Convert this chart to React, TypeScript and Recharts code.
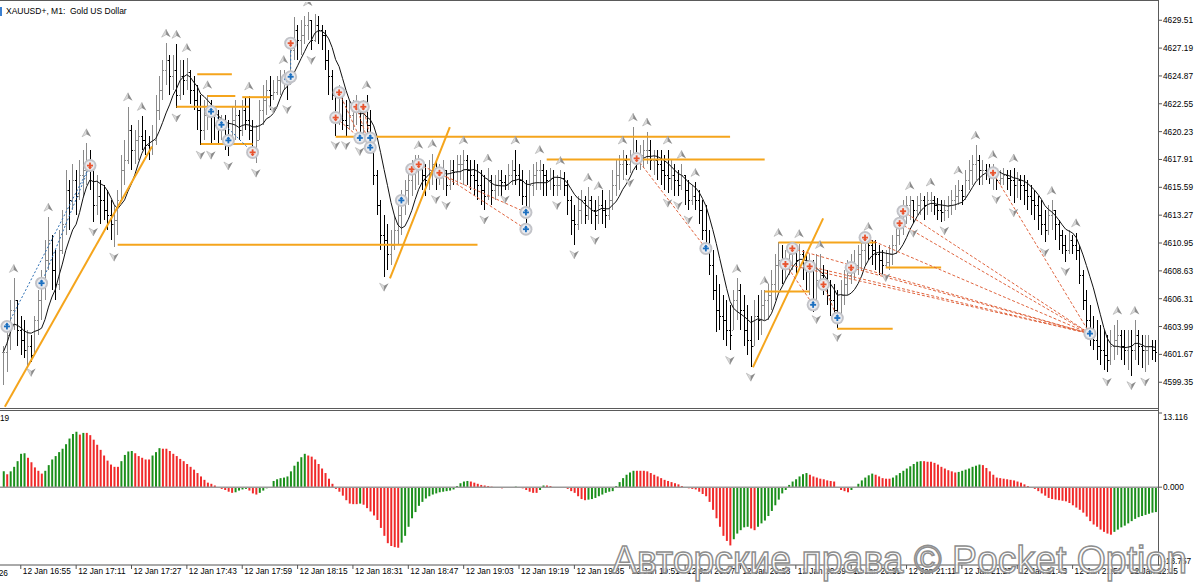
import React from 'react';
import { ComposedChart, Bar, Line, Scatter, XAxis, YAxis, ReferenceLine, Cell } from 'recharts';

// XAUUSD+ M1, one bar per minute starting 12 Jan 16:50
const high = [
  4602.4, 4603.7, 4606.2, 4608.0, 4606.2, 4604.9, 4604.5, 4603.7, 4603.3, 4604.9,
  4607.0, 4608.7, 4611.2, 4613.1, 4611.6, 4610.4, 4612.0, 4613.7, 4617.0, 4616.2,
  4617.5, 4617.0, 4617.9, 4618.7, 4619.3, 4618.7, 4617.0, 4616.6, 4616.2, 4615.8,
  4615.4, 4614.5, 4614.1, 4615.4, 4618.3, 4619.5, 4622.3, 4620.8, 4620.4, 4621.2,
  4621.5, 4620.4, 4619.9, 4620.8, 4623.3, 4624.9, 4626.2, 4627.6, 4626.6, 4626.6,
  4627.5, 4626.2, 4626.2, 4626.4, 4625.4, 4624.9, 4624.1, 4623.3, 4622.9, 4623.3,
  4622.9, 4622.0, 4622.0, 4621.6, 4621.6, 4621.2, 4622.4, 4622.9, 4622.0, 4622.9,
  4623.0, 4623.2, 4621.2, 4620.8, 4622.9, 4624.1, 4624.5, 4624.9, 4624.5, 4624.9,
  4625.4, 4625.4, 4624.9, 4627.9, 4629.8, 4629.1, 4629.5, 4629.9, 4630.2, 4629.5,
  4630.0, 4629.9, 4629.1, 4628.7, 4627.0, 4625.4, 4623.3, 4624.1, 4623.3, 4622.9,
  4622.9, 4622.9, 4623.3, 4622.4, 4622.9, 4623.3, 4622.0, 4619.5, 4617.0, 4614.5,
  4613.3, 4612.5, 4612.0, 4613.3, 4614.5, 4615.4, 4616.2, 4617.0, 4617.9, 4618.3,
  4618.3, 4617.9, 4617.5, 4617.9, 4618.4, 4617.9, 4617.5, 4617.9, 4617.0, 4617.9,
  4617.9, 4618.3, 4618.3, 4618.7, 4618.3, 4617.9, 4617.9, 4617.5, 4617.0, 4616.6,
  4617.2, 4616.6, 4616.6, 4617.0, 4617.0, 4616.6, 4617.5, 4617.9, 4618.7, 4617.5,
  4617.0, 4616.2, 4617.0, 4617.5, 4617.7, 4617.9, 4617.5, 4617.0, 4617.2, 4617.0,
  4616.6, 4617.0, 4616.9, 4616.2, 4614.9, 4614.1, 4614.9, 4615.4, 4614.9, 4615.6,
  4614.9, 4614.5, 4614.9, 4615.4, 4614.5, 4615.4, 4617.0, 4617.9, 4618.3, 4618.7,
  4618.3, 4618.7, 4620.6, 4619.5, 4619.1, 4619.5, 4620.2, 4619.5, 4618.7, 4618.7,
  4618.7, 4618.3, 4618.7, 4617.9, 4617.5, 4617.0, 4617.5, 4616.6, 4616.2, 4615.8,
  4616.0, 4615.4, 4614.5, 4614.1, 4612.0, 4610.4, 4608.3, 4607.5, 4606.6, 4606.2,
  4605.8, 4607.0, 4608.0, 4607.5, 4606.6, 4605.8, 4604.9, 4606.2, 4606.6, 4607.0,
  4607.0, 4607.5, 4608.7, 4610.0, 4611.0, 4610.8, 4610.4, 4610.8, 4610.8, 4610.8,
  4610.9, 4610.4, 4610.0, 4610.0, 4609.5, 4610.0, 4610.0, 4609.1, 4608.7, 4607.9,
  4607.5, 4607.0, 4607.9, 4608.7, 4609.5, 4610.0, 4610.4, 4610.8, 4611.2, 4611.5,
  4611.5, 4611.2, 4611.2, 4610.8, 4610.4, 4610.4, 4610.8, 4611.6, 4612.5, 4613.3,
  4614.5, 4614.9, 4614.9, 4614.5, 4614.9, 4615.1, 4614.9, 4615.2, 4615.2, 4614.9,
  4614.7, 4614.5, 4614.5, 4614.9, 4615.4, 4615.8, 4616.2, 4615.8, 4617.0, 4617.9,
  4618.3, 4619.1, 4618.3, 4617.9, 4617.5, 4617.5, 4617.5, 4617.0, 4617.0, 4617.2,
  4617.0, 4617.0, 4617.2, 4616.9, 4616.6, 4616.6, 4616.2, 4615.8, 4615.4, 4614.9,
  4614.5, 4613.7, 4614.1, 4614.5, 4613.7, 4612.9, 4612.0, 4611.6, 4612.0, 4611.6,
  4611.8, 4610.8, 4608.7, 4607.0, 4605.8, 4604.9, 4604.5, 4604.1, 4603.7, 4603.3,
  4603.7, 4604.1, 4604.5, 4603.7, 4603.7, 4603.7, 4603.7, 4604.5, 4603.7, 4603.3,
  4603.3, 4603.3, 4602.9, 4602.9,
];

const low = [
  4599.1, 4600.2, 4602.0, 4603.7, 4602.4, 4601.6, 4601.4, 4600.5, 4601.0, 4601.6,
  4603.3, 4604.5, 4606.2, 4608.7, 4607.0, 4606.2, 4607.0, 4610.0, 4611.6, 4612.0,
  4613.7, 4613.3, 4614.5, 4614.9, 4615.8, 4615.4, 4612.7, 4613.3, 4612.5, 4612.9,
  4612.0, 4611.2, 4610.6, 4611.6, 4614.5, 4615.8, 4617.5, 4617.0, 4617.5, 4617.9,
  4618.7, 4618.3, 4617.9, 4618.3, 4619.1, 4621.2, 4622.9, 4624.1, 4623.3, 4623.7,
  4622.2, 4622.9, 4623.3, 4623.7, 4622.5, 4622.0, 4620.4, 4619.1, 4619.5, 4620.4,
  4619.1, 4619.5, 4619.1, 4619.5, 4618.7, 4618.2, 4619.1, 4619.5, 4619.5, 4619.9,
  4620.4, 4619.5, 4618.3, 4617.6, 4619.5, 4620.8, 4621.6, 4622.0, 4622.9, 4623.3,
  4623.3, 4623.7, 4622.9, 4624.1, 4626.2, 4626.2, 4626.6, 4627.5, 4627.9, 4627.0,
  4627.7, 4627.5, 4627.0, 4625.4, 4623.3, 4622.9, 4619.9, 4620.8, 4620.4, 4619.9,
  4620.4, 4620.4, 4620.8, 4619.4, 4619.7, 4619.9, 4618.9, 4615.8, 4613.3, 4610.4,
  4608.1, 4608.7, 4609.1, 4610.4, 4610.8, 4611.6, 4613.3, 4614.1, 4614.9, 4615.4,
  4615.8, 4615.4, 4614.9, 4615.4, 4615.8, 4615.4, 4615.8, 4615.4, 4614.9, 4615.4,
  4615.8, 4615.8, 4616.2, 4615.8, 4615.8, 4615.4, 4614.9, 4614.5, 4614.1, 4613.7,
  4614.5, 4614.1, 4614.5, 4614.9, 4614.9, 4615.4, 4615.4, 4615.8, 4615.8, 4614.9,
  4614.1, 4612.5, 4613.7, 4614.9, 4615.4, 4615.4, 4614.9, 4614.9, 4615.4, 4614.9,
  4614.9, 4615.4, 4614.9, 4613.3, 4611.6, 4610.8, 4612.0, 4612.5, 4612.5, 4612.9,
  4612.5, 4612.0, 4612.5, 4612.5, 4612.2, 4612.9, 4613.7, 4614.9, 4615.4, 4616.2,
  4616.6, 4616.8, 4617.5, 4617.0, 4617.0, 4617.2, 4617.5, 4617.0, 4616.6, 4616.2,
  4615.8, 4615.4, 4615.1, 4615.4, 4614.9, 4614.9, 4615.4, 4614.1, 4613.7, 4614.1,
  4613.7, 4612.5, 4611.2, 4610.4, 4608.3, 4606.2, 4603.5, 4603.7, 4602.9, 4602.4,
  4602.0, 4603.7, 4604.5, 4603.7, 4602.4, 4601.6, 4600.6, 4602.4, 4602.9, 4603.3,
  4604.5, 4604.5, 4605.4, 4606.2, 4607.0, 4607.5, 4607.9, 4608.3, 4608.7, 4608.3,
  4608.7, 4607.9, 4607.0, 4606.6, 4605.2, 4605.4, 4607.0, 4606.6, 4605.8, 4604.9,
  4604.5, 4603.9, 4604.9, 4605.8, 4606.6, 4607.5, 4607.9, 4608.3, 4608.7, 4609.1,
  4609.5, 4609.1, 4608.7, 4608.3, 4608.3, 4608.9, 4608.7, 4609.1, 4610.0, 4610.8,
  4611.6, 4612.5, 4612.9, 4612.6, 4613.3, 4613.3, 4612.9, 4613.3, 4613.5, 4613.3,
  4612.9, 4612.7, 4612.8, 4613.0, 4613.3, 4613.7, 4614.1, 4614.1, 4614.5, 4615.4,
  4615.8, 4616.2, 4615.8, 4615.8, 4616.2, 4615.9, 4615.4, 4615.4, 4615.8, 4615.8,
  4615.4, 4614.9, 4614.3, 4614.7, 4614.5, 4614.1, 4613.7, 4613.3, 4612.9, 4612.0,
  4611.6, 4611.0, 4611.6, 4612.0, 4611.2, 4610.4, 4610.0, 4609.4, 4610.0, 4610.0,
  4609.5, 4607.5, 4605.4, 4603.7, 4602.4, 4602.0, 4601.2, 4600.8, 4600.4, 4600.2,
  4600.8, 4601.2, 4601.6, 4601.2, 4600.8, 4600.4, 4599.9, 4601.2, 4600.8, 4600.5,
  4600.2, 4600.8, 4601.2, 4601.0,
];

const close = [
  4601.9, 4603.3, 4605.4, 4606.2, 4603.7, 4602.9, 4602.0, 4602.4, 4601.6, 4604.5,
  4606.2, 4607.5, 4609.5, 4611.2, 4608.7, 4607.5, 4610.4, 4612.5, 4615.4, 4614.5,
  4616.2, 4614.9, 4616.6, 4617.0, 4617.9, 4617.2, 4614.1, 4614.9, 4614.5, 4613.7,
  4613.3, 4612.5, 4612.9, 4614.5, 4617.0, 4617.9, 4620.4, 4618.7, 4619.5, 4619.9,
  4619.5, 4619.1, 4618.9, 4619.5, 4622.0, 4623.7, 4625.4, 4626.2, 4624.9, 4625.4,
  4623.3, 4624.9, 4624.5, 4625.2, 4623.7, 4622.9, 4622.0, 4620.4, 4621.6, 4622.4,
  4621.9, 4620.8, 4620.5, 4620.8, 4619.9, 4619.5, 4621.2, 4621.6, 4620.4, 4622.0,
  4621.2, 4620.4, 4618.7, 4619.5, 4622.0, 4622.9, 4623.7, 4623.3, 4623.5, 4624.5,
  4624.7, 4624.9, 4624.5, 4627.0, 4628.7, 4627.9, 4628.3, 4629.1, 4629.5, 4627.9,
  4629.1, 4628.7, 4628.3, 4626.2, 4624.9, 4623.3, 4621.4, 4623.3, 4621.2, 4620.8,
  4621.6, 4622.0, 4622.4, 4620.8, 4622.0, 4620.8, 4619.5, 4616.6, 4614.1, 4611.6,
  4611.2, 4610.0, 4610.8, 4612.0, 4613.3, 4614.5, 4615.4, 4616.2, 4617.0, 4617.5,
  4617.5, 4616.6, 4616.2, 4617.0, 4617.5, 4616.6, 4616.8, 4617.0, 4615.8, 4617.0,
  4616.9, 4617.5, 4617.5, 4617.9, 4617.0, 4616.6, 4616.2, 4615.8, 4615.4, 4614.9,
  4616.2, 4615.4, 4615.8, 4616.2, 4616.0, 4615.8, 4616.6, 4617.0, 4616.6, 4616.2,
  4614.9, 4613.7, 4615.8, 4616.6, 4617.0, 4617.0, 4616.6, 4616.2, 4616.4, 4615.8,
  4615.8, 4616.4, 4615.8, 4614.5, 4612.9, 4612.5, 4613.7, 4614.5, 4613.3, 4614.5,
  4613.7, 4613.3, 4614.1, 4613.7, 4613.3, 4614.5, 4615.8, 4616.6, 4617.5, 4617.9,
  4617.5, 4617.9, 4618.3, 4618.0, 4618.3, 4618.7, 4618.7, 4617.9, 4617.9, 4617.5,
  4617.0, 4616.6, 4616.4, 4616.6, 4616.2, 4615.8, 4616.6, 4615.4, 4614.5, 4614.9,
  4614.5, 4613.7, 4612.0, 4610.8, 4609.1, 4607.0, 4605.4, 4604.9, 4604.5, 4603.7,
  4603.3, 4606.2, 4607.0, 4605.4, 4603.7, 4602.9, 4602.4, 4604.9, 4604.5, 4605.8,
  4606.2, 4606.6, 4607.5, 4609.1, 4609.5, 4609.1, 4609.1, 4610.0, 4610.4, 4609.5,
  4610.0, 4609.1, 4608.7, 4609.0, 4606.2, 4607.9, 4608.3, 4607.5, 4606.6, 4606.2,
  4605.4, 4604.7, 4606.6, 4607.5, 4608.3, 4608.9, 4609.1, 4610.0, 4610.4, 4611.2,
  4610.8, 4610.4, 4610.0, 4609.5, 4609.1, 4609.4, 4610.0, 4610.8, 4611.6, 4612.6,
  4613.6, 4614.1, 4614.5, 4613.7, 4614.1, 4614.5, 4614.1, 4614.5, 4614.5, 4614.1,
  4613.7, 4613.5, 4613.7, 4614.1, 4614.5, 4614.9, 4615.4, 4614.9, 4616.2, 4617.0,
  4617.5, 4617.9, 4617.0, 4617.0, 4616.9, 4616.6, 4616.8, 4616.2, 4616.4, 4616.6,
  4616.4, 4616.2, 4615.8, 4616.2, 4615.8, 4615.4, 4614.9, 4614.5, 4614.1, 4613.3,
  4612.5, 4612.0, 4613.3, 4613.7, 4612.5, 4611.6, 4610.8, 4610.4, 4611.2, 4610.8,
  4610.4, 4608.3, 4606.2, 4604.5, 4603.4, 4602.9, 4602.4, 4602.0, 4601.6, 4601.2,
  4602.4, 4602.9, 4603.3, 4602.4, 4602.0, 4602.4, 4602.0, 4603.3, 4602.4, 4602.0,
  4602.0, 4602.4, 4602.0, 4601.9,
];

// oscillator histogram, one value per bar
const osc = [
  2.8, 2.3, 2.8, 3.6, 4.6, 5.9, 6.0, 5.2, 4.4, 3.5,
  2.9, 2.4, 2.9, 3.9, 4.9, 5.5, 6.2, 6.8, 7.6, 8.6,
  9.4, 9.8, 9.3, 9.6, 9.6, 9.2, 8.4, 7.5, 6.6, 5.6,
  4.7, 4.0, 3.6, 3.6, 4.6, 5.7, 6.3, 6.4, 6.0, 5.5,
  5.2, 4.9, 4.9, 5.6, 6.2, 6.9, 6.8, 6.8, 6.4, 5.9,
  5.5, 5.0, 4.6, 4.1, 3.6, 3.1, 2.5, 1.9, 1.3, 0.8,
  0.6, 0.3, 0.0, -0.3, -0.5, -0.8, -1.0, -0.9, -0.6, -0.4,
  -0.3, -0.6, -1.1, -1.3, -1.0, -0.6, -0.2, 0.0, 1.1, 1.4,
  1.6, 1.7, 1.9, 2.8, 3.8, 4.5, 5.3, 5.9, 5.6, 5.4,
  4.9, 4.1, 3.3, 2.5, 1.5, 0.6, -0.3, -0.8, -1.5, -2.3,
  -2.9, -3.0, -3.0, -2.9, -3.1, -3.7, -4.3, -5.0, -5.8, -7.2,
  -8.6, -9.9, -10.4, -10.6, -10.7, -9.8, -8.6, -7.0, -5.5, -4.4,
  -3.3, -2.6, -2.0, -1.6, -1.3, -1.1, -0.9, -0.8, -0.7, -0.6,
  -0.4, 0.2, 0.7, 1.0, 1.1, 1.0, 0.8, 0.6, 0.4, 0.3,
  0.2, 0.1, 0.0, -0.1, -0.2, 0.0, 0.0, 0.0, 0.1, 0.0,
  -0.2, -0.5, -0.8, -1.0, -1.0, -0.5, 0.3, 0.3, 0.2, 0.0,
  0.0, 0.0, 0.0, -0.3, -0.7, -1.0, -1.6, -2.1, -2.3, -2.2,
  -2.1, -1.9, -1.6, -1.3, -1.0, -0.8, -0.7, 0.2, 0.9, 1.6,
  2.2, 2.6, 2.9, 2.9, 2.9, 2.9, 2.8, 2.5, 2.2, 1.9,
  1.6, 1.3, 1.1, 0.9, 0.7, 0.5, 0.2, 0.0, -0.2, -0.3,
  -0.4, -0.8, -1.2, -1.6, -2.6, -4.0, -5.5, -7.0, -8.6, -9.5,
  -10.3, -9.2, -8.2, -7.6, -7.1, -7.0, -7.3, -7.6, -7.0, -6.4,
  -5.9, -5.1, -4.2, -3.2, -2.2, -1.1, -0.5, 0.4, 1.0, 1.4,
  1.9, 2.3, 2.5, 2.2, 1.9, 1.7, 1.5, 1.4, 1.2, 1.1,
  1.0, 0.0, -0.5, -0.7, -0.9, -0.5, 0.0, 0.6, 1.2, 1.7,
  2.1, 2.4, 2.2, 1.9, 1.6, 1.5, 1.5, 1.7, 2.1, 2.5,
  2.9, 3.3, 3.7, 4.1, 4.5, 4.6, 4.6, 4.5, 4.5, 4.3,
  4.0, 3.6, 3.3, 3.0, 2.8, 2.6, 2.7, 2.9, 3.1, 3.3,
  3.6, 3.8, 4.0, 3.9, 3.4, 2.8, 2.2, 1.7, 1.6, 1.5,
  1.4, 1.3, 1.2, 1.0, 0.8, 0.5, 0.2, 0.0, -0.3, -0.7,
  -1.1, -1.5, -1.9, -2.1, -2.2, -2.3, -2.4, -2.5, -2.8, -3.2,
  -3.6, -4.0, -4.5, -5.2, -6.0, -6.6, -7.0, -7.5, -7.9, -8.2,
  -8.4, -7.9, -7.5, -7.1, -6.8, -6.4, -6.0, -5.6, -5.3, -5.1,
  -4.9, -4.7, -4.5, -4.4,
];

const upFractals = [3, 13, 24, 36, 40, 47, 50, 53, 59, 71, 81, 88, 105, 120, 124, 133, 140, 148, 155, 161, 169, 172, 179, 182, 186, 192, 196, 200, 212, 220, 224, 230, 236, 250, 262, 268, 276, 281, 286, 292, 303, 310, 322, 327];
const downFractals = [8, 26, 32, 50, 57, 60, 65, 73, 78, 82, 89, 96, 99, 103, 110, 125, 128, 139, 145, 160, 165, 171, 181, 192, 195, 198, 210, 216, 235, 241, 255, 263, 272, 287, 292, 301, 307, 319, 326, 330];

// [bar, price]
const buyDeals = [[1, 4604.0], [11, 4607.6], [60, 4621.9], [63, 4620.8], [65, 4619.5], [82, 4624.6], [83, 4624.8], [103, 4619.7], [106, 4619.7], [106, 4618.9], [115, 4614.5], [151, 4613.5], [151, 4612.1], [203, 4610.5], [234, 4605.8], [241, 4604.7], [314, 4603.4]];
const sellDeals = [[25, 4617.4], [72, 4618.5], [83, 4627.6], [96, 4621.4], [97, 4623.5], [102, 4622.3], [104, 4622.3], [118, 4617.1], [120, 4617.5], [126, 4616.8], [183, 4618.0], [226, 4609.2], [228, 4610.5], [233, 4609.0], [237, 4607.5], [245, 4608.9], [249, 4611.4], [259, 4612.6], [260, 4613.6], [286, 4616.8]];

// [fromBar, fromPrice, toBar, toPrice]
const buyLinks = [[1, 4604.0, 25, 4617.4], [11, 4607.6, 25, 4617.4], [60, 4621.9, 72, 4618.5], [83, 4624.8, 83, 4627.6]];
const sellLinks = [[96, 4621.4, 103, 4619.7], [97, 4623.5, 103, 4619.7], [102, 4622.3, 106, 4618.9], [104, 4622.3, 106, 4619.7], [120, 4617.5, 151, 4613.5], [126, 4616.8, 151, 4612.1], [183, 4618.0, 203, 4610.5], [226, 4609.2, 234, 4605.8], [237, 4607.5, 241, 4604.7], [226, 4609.2, 314, 4603.4], [228, 4610.5, 314, 4603.4], [233, 4609.0, 314, 4603.4], [245, 4608.9, 314, 4603.4], [249, 4611.4, 314, 4603.4], [259, 4612.6, 314, 4603.4], [260, 4613.6, 314, 4603.4], [286, 4616.8, 314, 4603.4]];

// [fromBar, toBar, price]
const levels = [[33, 137, 4610.8], [50, 71, 4622.3], [56, 66, 4625.0], [59, 67, 4623.2], [69, 77, 4623.1], [57, 72, 4619.2], [96, 210, 4619.8], [157, 220, 4617.9], [220, 233, 4606.9], [224, 252, 4611.0], [241, 257, 4603.8], [255, 271, 4608.9]];
// [fromBar, fromPrice, toBar, toPrice]
const trendLines = [[0.4, 4597.3, 42.9, 4619.0], [111.7, 4608.0, 129.0, 4620.6], [216.6, 4600.6, 236.9, 4613.0]];

const priceTicks = [4629.51, 4627.19, 4624.87, 4622.55, 4620.23, 4617.91, 4615.59, 4613.27, 4610.95, 4608.63, 4606.31, 4603.99, 4601.67, 4599.35];
const oscTicks = [13.116, 0, -13.757];
const timeTickBars = [5, 21, 37, 53, 69, 85, 101, 117, 133, 149, 165, 181, 197, 213, 229, 245, 261, 277, 293, 309, 325];
const timeTickLabels = ['12 Jan 16:55', '12 Jan 17:11', '12 Jan 17:27', '12 Jan 17:43', '12 Jan 17:59', '12 Jan 18:15', '12 Jan 18:31', '12 Jan 18:47', '12 Jan 19:03', '12 Jan 19:19', '12 Jan 19:35', '12 Jan 19:51', '12 Jan 20:07', '12 Jan 20:23', '12 Jan 20:39', '12 Jan 20:55', '12 Jan 21:11', '12 Jan 21:27', '12 Jan 21:43', '12 Jan 21:59', '12 Jan 22:15'];

const FONT = 'Liberation Sans, Arial, sans-serif';
const X_DOMAIN: [number, number] = [-1.01, 333.68];
const ORANGE = '#f5a51c';

// MA indicator on the chart: 8-bar simple average of closes
const MA_LEN = 8;
const bars = close.map((c, i) => {
  const win = close.slice(Math.max(0, i - MA_LEN + 1), i + 1);
  return {
    i,
    range: [low[i], high[i]],
    high: high[i],
    low: low[i],
    open: i === 0 ? c : close[i - 1],
    close: c,
    ma: win.reduce((a, b) => a + b, 0) / win.length,
  };
});
const oscData = osc.map((v, i) => ({ i, v }));

const OhlcShape = (props: any) => {
  const { x, y, width, height, payload } = props;
  if (x == null || payload == null) return null;
  const top = Math.min(y, y + height);
  const h = Math.abs(height);
  const cx = Math.round(x + width / 2) + 0.5;
  const span = payload.high - payload.low || 1;
  const toY = (p: number) => {
    const q = Math.min(payload.high, Math.max(payload.low, p));
    return Math.round(top + ((payload.high - q) / span) * h);
  };
  const col = payload.close >= payload.open ? '#8a8a8a' : '#000000';
  return (
    <g>
      <line x1={cx} x2={cx} y1={Math.round(top)} y2={Math.round(top + h)} stroke={col} strokeWidth={1} />
      <rect x={cx - 1.5} y={toY(payload.open)} width={1} height={1} fill={col} />
      <rect x={cx + 0.5} y={toY(payload.close)} width={1} height={1} fill={col} />
    </g>
  );
};

const UpArrow = (props: any) => {
  const { cx, cy } = props;
  const t = cy - 14;
  return (
    <g>
      <polygon points={`${cx},${t} ${cx - 4.5},${t + 8} ${cx},${t + 5.5}`} fill="#dcdcdc" stroke="#a0a0a0" strokeWidth={0.5} />
      <polygon points={`${cx},${t} ${cx + 4.5},${t + 8} ${cx},${t + 5.5}`} fill="#8c8c8c" />
    </g>
  );
};

const DownArrow = (props: any) => {
  const { cx, cy } = props;
  const b = cy + 14;
  return (
    <g>
      <polygon points={`${cx},${b} ${cx - 4.5},${b - 8} ${cx},${b - 5.5}`} fill="#dcdcdc" stroke="#a0a0a0" strokeWidth={0.5} />
      <polygon points={`${cx},${b} ${cx + 4.5},${b - 8} ${cx},${b - 5.5}`} fill="#8c8c8c" />
    </g>
  );
};

const dealShape = (color: string, up: boolean) => (props: any) => {
  const { cx, cy } = props;
  return (
    <g>
      <circle cx={cx} cy={cy} r={6.5} fill="#c2c3c8" />
      <circle cx={cx} cy={cy} r={4.6} fill="#e9eaee" />
      <rect x={cx - 3} y={cy - 0.9} width={6} height={1.8} fill={color} />
      <rect x={cx - 0.9} y={cy - 3} width={1.8} height={6} fill={color} />
      <polygon points={up ? `${cx - 2},${cy - 1.5} ${cx + 2},${cy - 1.5} ${cx},${cy - 3.8}` : `${cx - 2},${cy + 1.5} ${cx + 2},${cy + 1.5} ${cx},${cy + 3.8}`} fill={color} />
    </g>
  );
};
const BuyShape = dealShape('#1b6fc0', true);
const SellShape = dealShape('#e8532e', false);

const PriceTick = (props: any) => {
  const { x, y, payload } = props;
  return (
    <text x={x} y={y + 3} fontSize={8.3} fontFamily={FONT} fill="#000">
      {Number(payload.value).toFixed(2)}
    </text>
  );
};

const OscTick = (props: any) => {
  const { x, y, payload } = props;
  const v = Number(payload.value);
  const dy = v > 1 ? 7 : v < -1 ? -1 : 3;
  return (
    <text x={x} y={y + dy} fontSize={8.3} fontFamily={FONT} fill="#000">
      {v.toFixed(3)}
    </text>
  );
};

const TimeTick = (props: any) => {
  const { x, y, payload } = props;
  const k = timeTickBars.indexOf(payload.value);
  return (
    <text x={x + 2} y={y + 5} fontSize={8.3} fontFamily={FONT} fill="#000">
      {timeTickLabels[k]}
    </text>
  );
};

export default function App() {
  return (
    <div style={{ position: 'absolute', left: 0, top: 0, width: 1200, height: 582, background: '#fff', overflow: 'hidden' }}>
      <div style={{ position: 'absolute', left: 0, top: 0 }}>
        <ComposedChart width={1200} height={409} data={bars} margin={{ top: 2, right: 0, bottom: 0, left: 0 }}>
          <XAxis dataKey="i" type="number" domain={X_DOMAIN} allowDataOverflow hide />
          <YAxis
            orientation="right"
            width={42}
            type="number"
            domain={[4597.12, 4631.03]}
            allowDataOverflow
            ticks={priceTicks}
            interval={0}
            axisLine={false}
            tickLine={{ stroke: '#555' }}
            tickSize={4}
            tickMargin={1}
            tick={<PriceTick />}
          />
          <Bar dataKey="range" barSize={3} shape={<OhlcShape />} isAnimationActive={false} />
          <Line dataKey="ma" type="linear" stroke="#111" strokeWidth={1} dot={false} isAnimationActive={false} />
          {levels.map(([a, b, p], k) => (
            <ReferenceLine key={'lv' + k} segment={[{ x: a, y: p }, { x: b, y: p }]} stroke={ORANGE} strokeWidth={2} ifOverflow="visible" />
          ))}
          {trendLines.map(([a, pa, b, pb], k) => (
            <ReferenceLine key={'tr' + k} segment={[{ x: a, y: pa }, { x: b, y: pb }]} stroke={ORANGE} strokeWidth={2} ifOverflow="visible" />
          ))}
          {buyLinks.map(([a, pa, b, pb], k) => (
            <ReferenceLine key={'bl' + k} segment={[{ x: a, y: pa }, { x: b, y: pb }]} stroke="#2d6fb4" strokeWidth={1} strokeDasharray="2 2" ifOverflow="visible" />
          ))}
          {sellLinks.map(([a, pa, b, pb], k) => (
            <ReferenceLine key={'sl' + k} segment={[{ x: a, y: pa }, { x: b, y: pb }]} stroke="#e0653f" strokeWidth={1} strokeDasharray="3 2" ifOverflow="visible" />
          ))}
          <Scatter data={upFractals.map((i) => ({ i, p: high[i] }))} dataKey="p" shape={<UpArrow />} isAnimationActive={false} />
          <Scatter data={downFractals.map((i) => ({ i, p: low[i] }))} dataKey="p" shape={<DownArrow />} isAnimationActive={false} />
          <Scatter data={buyDeals.map(([i, p]) => ({ i, p }))} dataKey="p" shape={<BuyShape />} isAnimationActive={false} />
          <Scatter data={sellDeals.map(([i, p]) => ({ i, p }))} dataKey="p" shape={<SellShape />} isAnimationActive={false} />
        </ComposedChart>
      </div>

      <div style={{ position: 'absolute', left: 0, top: 411 }}>
        <ComposedChart width={1200} height={171} data={oscData} margin={{ top: 2, right: 0, bottom: 0, left: 0 }}>
          <XAxis
            dataKey="i"
            type="number"
            domain={X_DOMAIN}
            allowDataOverflow
            ticks={timeTickBars}
            interval={0}
            height={17}
            axisLine={{ stroke: '#555' }}
            tickLine={{ stroke: '#555' }}
            tickSize={4}
            tickMargin={0}
            tick={<TimeTick />}
          />
          <YAxis
            orientation="right"
            width={42}
            type="number"
            domain={[-13.757, 13.116]}
            allowDataOverflow
            ticks={oscTicks}
            interval={0}
            axisLine={false}
            tickLine={{ stroke: '#555' }}
            tickSize={4}
            tickMargin={1}
            tick={<OscTick />}
          />
          <ReferenceLine y={0} stroke="#9a9a9a" strokeWidth={1.5} />
          <Bar dataKey="v" barSize={2} isAnimationActive={false}>
            {osc.map((v, k) => (
              <Cell key={k} fill={k > 0 && v <= osc[k - 1] ? '#f02a2a' : '#1b8f1b'} />
            ))}
          </Bar>
        </ComposedChart>
      </div>

      <svg width={1200} height={582} style={{ position: 'absolute', left: 0, top: 0, pointerEvents: 'none' }}>
        <line x1={0} x2={1158} y1={0.5} y2={0.5} stroke="#5a5a5a" />
        <line x1={0} x2={1158} y1={408.5} y2={408.5} stroke="#5a5a5a" />
        <line x1={0} x2={1158} y1={410.5} y2={410.5} stroke="#5a5a5a" />
        <line x1={1158.5} x2={1158.5} y1={0} y2={565.5} stroke="#5a5a5a" />
        <rect x={0} y={7} width={2} height={9} fill="#3a7fd0" />
        <text x={6} y={14} fontSize={8.5} fontFamily={FONT} fill="#000" style={{ whiteSpace: 'pre' }}>
          {'XAUUSD+, M1:  Gold US Dollar'}
        </text>
        <text x={0} y={421} fontSize={8.3} fontFamily={FONT} fill="#000">19</text>
        <text x={8} y={576} fontSize={8.3} fontFamily={FONT} fill="#000" textAnchor="end">12 Jan 2026</text>
        <text
          x={612}
          y={573}
          fontSize={39}
          fontFamily={FONT}
          fill="#ffffff"
          fillOpacity={0.8}
          stroke="#8e8e8e"
          strokeWidth={1.5}
          textLength={575}
          lengthAdjust="spacingAndGlyphs"
        >
          Авторские права © Pocket Option
        </text>
      </svg>
    </div>
  );
}
